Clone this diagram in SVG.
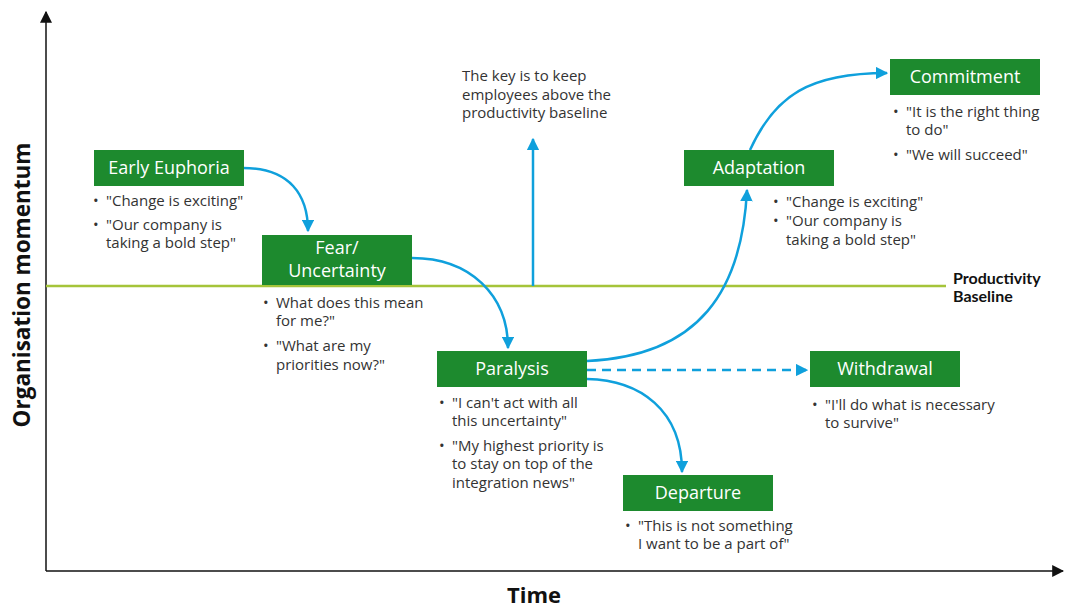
<svg xmlns="http://www.w3.org/2000/svg" width="1066" height="607" viewBox="0 0 1066 607">
<style>
.box{fill:#1d8a2e}
.lbl{font-family:"Open Sans","Noto Sans",sans-serif;font-size:18px;fill:#fff;text-anchor:middle}
.txt{font-family:"Open Sans","Noto Sans",sans-serif;font-size:15px;fill:#333}
.bold{font-family:"Open Sans","Noto Sans",sans-serif;font-weight:bold;fill:#111}
.con{fill:none;stroke:#0fa0dc;stroke-width:2.5}
.axis{fill:none;stroke:#111;stroke-width:1.5}
</style>
<defs>
<marker id="ah" viewBox="0 0 10 10" refX="9" refY="5" markerWidth="5" markerHeight="5" orient="auto" markerUnits="strokeWidth">
<path d="M0,0 L10,5 L0,10 Z" fill="#0fa0dc"/>
</marker>
<marker id="ax" viewBox="0 0 10 10" refX="9" refY="5" markerWidth="8" markerHeight="8" orient="auto" markerUnits="strokeWidth">
<path d="M0,0 L10,5 L0,10 Z" fill="#111"/>
</marker>
</defs>
<rect width="1066" height="607" fill="#fff"/>
<g id="axes">
<line class="axis" x1="46" y1="571" x2="46" y2="12" marker-end="url(#ax)"/>
<line class="axis" x1="46" y1="571" x2="1063" y2="571" marker-end="url(#ax)"/>
<text class="bold" font-size="22.5" text-anchor="middle" transform="translate(30,285) rotate(-90)">Organisation momentum</text>
<text class="bold" font-size="22" x="534" y="603" text-anchor="middle">Time</text>
</g>
<g id="baseline">
<line x1="46" y1="286" x2="946" y2="286" stroke="#a5c43a" stroke-width="2.5"/>
<text font-family="Lato, 'Open Sans', sans-serif" font-weight="bold" font-size="16" fill="#111"><tspan x="953" y="284">Productivity</tspan><tspan x="953" y="301.5">Baseline</tspan></text>
</g>
<g id="connectors">
<path class="con" d="M243,168 C290,168 308,195 308,231" marker-end="url(#ah)"/>
<path class="con" d="M412,258 C470,258 508,295 508,348" marker-end="url(#ah)"/>
<path class="con" d="M587,361 C700,356 742,290 747,190" marker-end="url(#ah)"/>
<path class="con" d="M750,150 C775,95 810,73 887,73" marker-end="url(#ah)"/>
<path class="con" d="M587,370 L807,370" stroke-dasharray="9,6" marker-end="url(#ah)"/>
<path class="con" d="M587,379 C640,380 682,410 682,472" marker-end="url(#ah)"/>
<path class="con" d="M533,286 L533,139" marker-end="url(#ah)"/>
</g>
<g id="key">
<text class="txt"><tspan x="462" y="81">The key is to keep</tspan><tspan x="462" y="100">employees above the</tspan><tspan x="462" y="118">productivity baseline</tspan></text>
</g>
<g id="early-euphoria">
<rect class="box" x="94" y="150" width="150" height="36"/>
<text class="lbl" x="169" y="174">Early Euphoria</text>
<text class="txt"><tspan x="93" y="206">•</tspan><tspan x="106" y="206">"Change is exciting"</tspan><tspan x="93" y="230">•</tspan><tspan x="106" y="230">"Our company is</tspan><tspan x="106" y="248">taking a bold step"</tspan></text>
</g>
<g id="fear">
<rect class="box" x="262" y="235" width="150" height="50"/>
<text class="lbl"><tspan x="337" y="254">Fear/</tspan><tspan x="337" y="276.5">Uncertainty</tspan></text>
<text class="txt"><tspan x="263" y="308">•</tspan><tspan x="276" y="308">What does this mean</tspan><tspan x="276" y="326">for me?"</tspan><tspan x="263" y="351">•</tspan><tspan x="276" y="351">"What are my</tspan><tspan x="276" y="370">priorities now?"</tspan></text>
</g>
<g id="paralysis">
<rect class="box" x="437" y="351" width="150" height="36"/>
<text class="lbl" x="512" y="375">Paralysis</text>
<text class="txt"><tspan x="439" y="408">•</tspan><tspan x="452" y="408">"I can't act with all</tspan><tspan x="452" y="426">this uncertainty"</tspan><tspan x="439" y="451">•</tspan><tspan x="452" y="451">"My highest priority is</tspan><tspan x="452" y="469">to stay on top of the</tspan><tspan x="452" y="488">integration news"</tspan></text>
</g>
<g id="adaptation">
<rect class="box" x="684" y="150" width="150" height="36"/>
<text class="lbl" x="759" y="174">Adaptation</text>
<text class="txt"><tspan x="773" y="207">•</tspan><tspan x="786" y="207">"Change is exciting"</tspan><tspan x="773" y="226">•</tspan><tspan x="786" y="226">"Our company is</tspan><tspan x="786" y="245">taking a bold step"</tspan></text>
</g>
<g id="commitment">
<rect class="box" x="890" y="59" width="150" height="36"/>
<text class="lbl" x="965" y="83">Commitment</text>
<text class="txt"><tspan x="893" y="117">•</tspan><tspan x="906" y="117">"It is the right thing</tspan><tspan x="906" y="135">to do"</tspan><tspan x="893" y="160">•</tspan><tspan x="906" y="160">"We will succeed"</tspan></text>
</g>
<g id="withdrawal">
<rect class="box" x="810" y="351" width="150" height="36"/>
<text class="lbl" x="885" y="375">Withdrawal</text>
<text class="txt"><tspan x="812" y="410">•</tspan><tspan x="825" y="410">"I'll do what is necessary</tspan><tspan x="825" y="428">to survive"</tspan></text>
</g>
<g id="departure">
<rect class="box" x="623" y="475" width="150" height="36"/>
<text class="lbl" x="698" y="499">Departure</text>
<text class="txt"><tspan x="625" y="531">•</tspan><tspan x="638" y="531">"This is not something</tspan><tspan x="638" y="549">I want to be a part of"</tspan></text>
</g>
</svg>
